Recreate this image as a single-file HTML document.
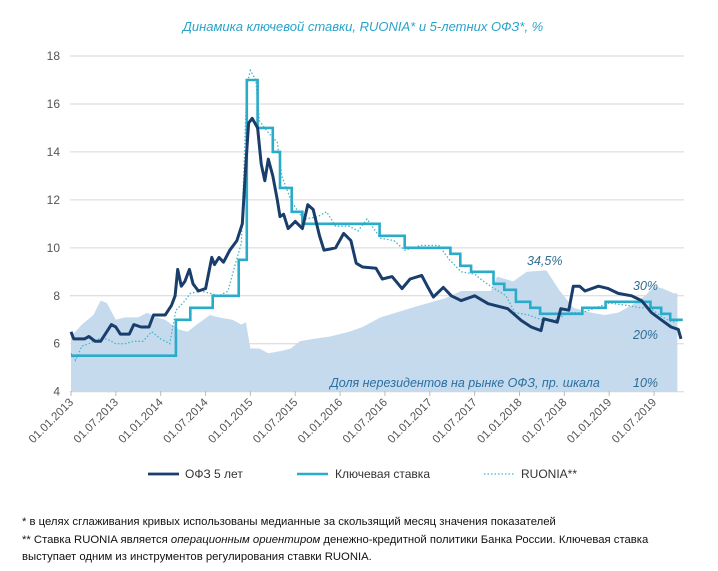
<!DOCTYPE html>
<html><head><meta charset="utf-8"><style>
body{margin:0;background:#fff;width:718px;height:571px;overflow:hidden;font-family:"Liberation Sans",sans-serif}
.fn{position:absolute;left:22px;font-size:11.3px;color:#111;line-height:17.5px}
</style></head><body>
<svg id="chart" width="718" height="500" style="position:absolute;left:0;top:0" xmlns="http://www.w3.org/2000/svg"></svg>
<div class="fn" style="top:514px">* в целях сглаживания кривых использованы медианные за скользящий месяц значения показателей<br>** Ставка RUONIA является <i>операционным ориентиром</i> денежно-кредитной политики Банка России. Ключевая ставка<br>выступает одним из инструментов регулирования ставки RUONIA.</div>
<script>
const xTickLabels=["01.01.2013","01.07.2013","01.01.2014","01.07.2014","01.01.2015","01.07.2015","01.01.2016","01.07.2016","01.01.2017","01.07.2017","01.01.2018","01.07.2018","01.01.2019","01.07.2019"];
const yTicks=[4,6,8,10,12,14,16,18];
const keyDates=[2013.0,2014.17,2014.33,2014.58,2014.87,2014.96,2015.08,2015.25,2015.33,2015.46,2015.58,2016.44,2016.72,2017.23,2017.34,2017.46,2017.71,2017.83,2017.96,2018.12,2018.23,2018.7,2018.96,2019.46,2019.58,2019.68,2019.82];
const keyValues=[5.5,7.0,7.5,8.0,9.5,17,15,14,12.5,11.5,11,10.5,10,9.75,9.25,9.0,8.5,8.25,7.75,7.5,7.25,7.5,7.75,7.5,7.25,7.0,7.0];
const ofzDates=[2013.0,2013.03,2013.15,2013.2,2013.27,2013.33,2013.45,2013.5,2013.55,2013.65,2013.7,2013.78,2013.87,2013.92,2014.05,2014.12,2014.16,2014.19,2014.23,2014.27,2014.32,2014.36,2014.42,2014.5,2014.57,2014.6,2014.65,2014.7,2014.77,2014.85,2014.91,2014.95,2014.98,2015.02,2015.08,2015.12,2015.16,2015.2,2015.25,2015.3,2015.33,2015.37,2015.42,2015.5,2015.58,2015.64,2015.7,2015.77,2015.82,2015.89,2015.95,2016.04,2016.12,2016.18,2016.25,2016.4,2016.47,2016.58,2016.69,2016.78,2016.91,2016.98,2017.04,2017.15,2017.24,2017.35,2017.5,2017.65,2017.87,2018.02,2018.13,2018.24,2018.27,2018.42,2018.46,2018.55,2018.6,2018.67,2018.73,2018.88,2018.99,2019.1,2019.25,2019.36,2019.47,2019.58,2019.69,2019.77,2019.8];
const ofzValues=[6.5,6.2,6.2,6.3,6.1,6.1,6.8,6.7,6.4,6.4,6.8,6.7,6.7,7.2,7.2,7.6,8.0,9.1,8.4,8.6,9.1,8.5,8.2,8.3,9.6,9.3,9.6,9.4,9.9,10.3,11.0,13.5,15.2,15.4,15.0,13.5,12.8,13.7,13.0,12.0,11.3,11.4,10.8,11.1,10.8,11.8,11.6,10.5,9.9,9.95,10.0,10.6,10.3,9.36,9.2,9.15,8.7,8.8,8.3,8.7,8.85,8.35,7.95,8.35,8.0,7.8,8.0,7.67,7.46,6.97,6.7,6.55,7.04,6.9,7.46,7.4,8.4,8.4,8.2,8.4,8.3,8.1,8.0,7.8,7.3,7.0,6.7,6.6,6.2];
const ruoniaDates=[2013.0,2013.05,2013.12,2013.2,2013.3,2013.4,2013.5,2013.6,2013.7,2013.8,2013.9,2014.0,2014.1,2014.17,2014.25,2014.33,2014.45,2014.55,2014.65,2014.75,2014.83,2014.9,2014.96,2015.0,2015.06,2015.1,2015.2,2015.3,2015.35,2015.45,2015.55,2015.62,2015.75,2015.85,2015.95,2016.1,2016.2,2016.3,2016.45,2016.6,2016.72,2016.9,2017.1,2017.22,2017.35,2017.5,2017.6,2017.72,2017.85,2017.95,2018.1,2018.25,2018.4,2018.55,2018.7,2018.85,2019.0,2019.2,2019.35,2019.45,2019.6,2019.7,2019.82];
const ruoniaValues=[5.6,5.3,5.9,6.0,6.2,6.2,6.0,6.0,6.1,6.1,6.5,6.2,6.0,7.4,7.7,8.1,8.2,8.1,8.0,8.2,9.3,10.2,16.8,17.4,17.0,15.3,14.8,14.4,13.0,12.0,11.4,11.2,11.3,11.5,10.9,10.9,10.7,11.2,10.4,10.3,9.9,10.1,10.1,9.5,9.0,8.9,8.6,8.3,8.0,7.3,7.2,7.0,7.0,7.3,7.3,7.5,7.7,7.6,7.5,7.5,7.1,6.9,7.0];
const shareDates=[2013.0,2013.12,2013.25,2013.33,2013.4,2013.5,2013.6,2013.75,2013.85,2013.95,2014.05,2014.2,2014.3,2014.4,2014.55,2014.65,2014.8,2014.9,2014.95,2015.0,2015.1,2015.2,2015.35,2015.45,2015.55,2015.7,2015.89,2016.1,2016.25,2016.45,2016.8,2017.17,2017.35,2017.68,2017.75,2017.93,2018.08,2018.3,2018.45,2018.6,2018.8,2018.95,2019.1,2019.25,2019.4,2019.5,2019.6,2019.72,2019.76];
const shareValues=[21.5,24,26,29,28.5,25,25.5,25.5,26.5,25.5,25,23,22.5,24,26,25.5,25,24,24.5,19,19,18,18.5,19,20.5,21,21.5,22.5,23.5,25.5,27.5,29.5,31,31,34,33,35,35.3,31,27.5,26.5,26,26.5,28,30,32,31.5,30.5,30.5];

const S="http://www.w3.org/2000/svg",svg=document.getElementById('chart');
const X=t=>71+(t-2013)*89.7, Y=v=>391.7-(v-4)*23.98, YS=s=>Y(4+(s-10)/5);
function mk(tag,at,txt){const e=document.createElementNS(S,tag);for(const k in at)e.setAttribute(k,at[k]);if(txt!==undefined)e.textContent=txt;svg.appendChild(e);return e;}
let t=mk('text',{x:363,y:31,'text-anchor':'middle','font-size':'13','font-style':'italic',fill:'#2aa3c8'},'Динамика ключевой ставки, RUONIA* и 5-летних ОФЗ*, %');


let ad='M'+X(shareDates[0])+','+Y(4);
shareDates.forEach((d,i)=>ad+=' L'+X(d).toFixed(1)+','+YS(shareValues[i]).toFixed(1));
ad+=' L'+X(shareDates[shareDates.length-1])+','+Y(4)+'Z';
let ar=mk('path',{d:ad,fill:'#c6daee'});


yTicks.forEach(v=>{
 let g=mk('line',{x1:70,x2:684,y1:Y(v),y2:Y(v),stroke:'#d6d6d6','stroke-width':1});
 
 
 let l=mk('text',{x:60,y:Y(v)+4,'text-anchor':'end','font-size':'12',fill:'#555'},String(v));
 
 
});
xTickLabels.forEach((s,i)=>{
 const x=X(2013+i*0.5);
 let tk=mk('line',{x1:x,x2:x,y1:391,y2:396,stroke:'#bbb'});
 
 
 let l=mk('text',{x:x+3,y:403,'text-anchor':'end','font-size':'11.5',fill:'#555',transform:`rotate(-45 ${x+3} 403)`},s);
 
 
});
function line(ds,vs,step){let d='';ds.forEach((t,i)=>{const x=X(t).toFixed(1),y=Y(vs[i]).toFixed(1);if(i==0)d='M'+x+','+y;else if(step)d+=' H'+x+' V'+y;else d+=' L'+x+','+y;});return d;}
let r=mk('path',{d:line(ruoniaDates,ruoniaValues,false),fill:'none',stroke:'#45b4cc','stroke-width':1.3,'stroke-dasharray':'1.5 2'});


let k=mk('path',{d:line(keyDates,keyValues,true),fill:'none',stroke:'#2aabc9','stroke-width':2.6});


let o=mk('path',{d:line(ofzDates,ofzValues,false),fill:'none',stroke:'#1a3e6c','stroke-width':3,'stroke-linejoin':'round'});


[['34,5%',527,265,'share-label-34'],['30%',633,290,'share-label-30'],['20%',633,339,'share-label-20'],['Доля нерезидентов на рынке ОФЗ, пр. шкала',330,387,'share-axis-title'],['10%',633,387,'share-label-10']].forEach(a=>{
 let e=mk('text',{x:a[1],y:a[2],'font-size':'12.5','font-style':'italic',fill:a[0].length>5?'#2a6fa0':'#2f6d93'},a[0]);
 
 
});
[[148,185,'ОФЗ 5 лет','#1a3e6c',2.8,null,'legend-ofz'],[297,335,'Ключевая ставка','#2aabc9',2.5,null,'legend-key-rate'],[484,521,'RUONIA**','#45b4cc',1.3,'1.5 2','legend-ruonia']].forEach(a=>{
 let at={x1:a[0],x2:a[0]+31,y1:474,y2:474,stroke:a[3],'stroke-width':a[4]};if(a[5])at['stroke-dasharray']=a[5];
 mk('line',at);
 let e=mk('text',{x:a[1],y:478,'font-size':'12',fill:'#333'},a[2]);
 
 
});
</script>
</body></html>
